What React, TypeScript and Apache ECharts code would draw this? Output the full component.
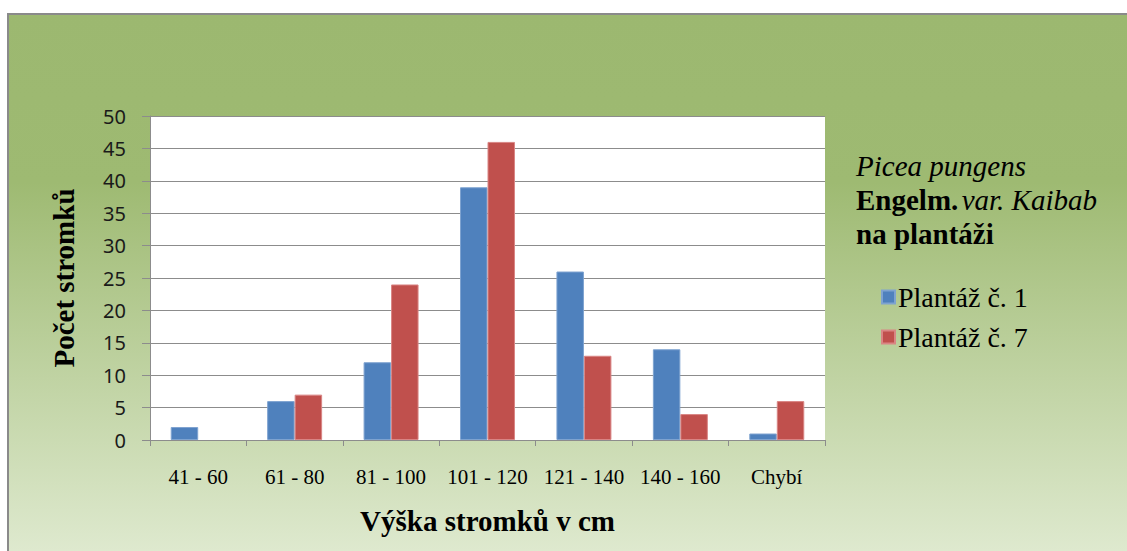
import React, { useEffect, useRef } from "react";
import * as echarts from "echarts";

const categories = ["41 - 60", "61 - 80", "81 - 100", "101 - 120", "121 - 140", "140 - 160", "Chybí"];
const plantaz1 = [2, 6, 12, 39, 26, 14, 1];
const plantaz7 = [0, 7, 24, 46, 13, 4, 6];
const seriesNames = ["Plantáž č. 1", "Plantáž č. 7"];
const yTicks = { min: 0, max: 50, interval: 5 };

const SERIF = '"Liberation Serif", "Times New Roman", serif';
const SANS = '"Noto Sans", "Open Sans", sans-serif';

// zero-height bars get no outline so they stay invisible
const toBarData = (values: number[]) =>
  values.map((v) => (v === 0 ? { value: v, itemStyle: { borderWidth: 0 } } : v));

export default function App() {
  const ref = useRef<HTMLDivElement>(null);

  useEffect(() => {
    document.body.style.margin = "0";
    const chart = echarts.init(ref.current!, null, { renderer: "svg" });
    chart.setOption({
      animation: false,
      graphic: [
        {
          type: "rect",
          z: -10,
          silent: true,
          shape: { x: 8, y: 14, width: 1140, height: 560 },
          style: {
            fill: new echarts.graphic.LinearGradient(0, 0, 0, 1, [
              { offset: 0, color: "#9cb870" },
              { offset: 0.3, color: "#9eba72" },
              { offset: 1, color: "#e2ecd4" },
            ]),
            stroke: "#8a8a8a",
            lineWidth: 2,
          },
        },
        {
          type: "rect",
          z: -5,
          silent: true,
          shape: { x: 150, y: 116, width: 675, height: 324 },
          style: { fill: "#ffffff" },
        },
        {
          type: "text",
          left: 856,
          top: 151,
          style: {
            text:
              "{i|Picea pungens}\n{b|Engelm.} {i|var. Kaibab}\n{b|na plantáži}",
            rich: {
              i: { fontFamily: SERIF, fontStyle: "italic", fontSize: 29, lineHeight: 34, fill: "#000" },
              b: { fontFamily: SERIF, fontWeight: "bold", fontSize: 29, lineHeight: 34, fill: "#000" },
            },
          },
        },
      ],
      legend: {
        orient: "vertical",
        left: 876,
        top: 278,
        itemWidth: 13,
        itemHeight: 13,
        itemGap: 12,
        icon: "rect",
        data: seriesNames,
        textStyle: { fontFamily: SERIF, fontSize: 28, color: "#000", padding: [0, 0, 0, -2] },
      },
      grid: { left: 150, top: 116, width: 675, height: 324, containLabel: false },
      xAxis: {
        type: "category",
        data: categories,
        name: "Výška stromků v cm",
        nameLocation: "middle",
        nameGap: 66,
        nameTextStyle: { fontFamily: SERIF, fontWeight: "bold", fontSize: 29, color: "#000" },
        axisLine: { lineStyle: { color: "#8c8c8c", width: 1 } },
        axisTick: { show: true, alignWithLabel: false, length: 6, lineStyle: { color: "#8c8c8c" } },
        axisLabel: { fontFamily: SERIF, fontSize: 21, color: "#000", margin: 26, interval: 0, hideOverlap: false },
      },
      yAxis: {
        type: "value",
        min: yTicks.min,
        max: yTicks.max,
        interval: yTicks.interval,
        name: "Počet stromků",
        nameLocation: "middle",
        nameGap: 72,
        nameTextStyle: { fontFamily: SERIF, fontWeight: "bold", fontSize: 29, color: "#000" },
        axisLine: { show: true, lineStyle: { color: "#8c8c8c", width: 1 } },
        axisTick: { show: true, length: 8, lineStyle: { color: "#8c8c8c" } },
        axisLabel: { fontFamily: SANS, fontSize: 20, color: "#1a1a1a", margin: 24 },
        splitLine: { lineStyle: { color: "#8c8c8c", width: 1 } },
      },
      series: [
        {
          name: seriesNames[0],
          type: "bar",
          data: toBarData(plantaz1),
          barGap: "0%",
          barCategoryGap: "43%",
          itemStyle: { color: "#4f81bd", borderColor: "#7ea3d0", borderWidth: 1 },
        },
        {
          name: seriesNames[1],
          type: "bar",
          data: toBarData(plantaz7),
          barGap: "0%",
          barCategoryGap: "43%",
          itemStyle: { color: "#c0504d", borderColor: "#d98584", borderWidth: 1 },
        },
      ],
    });
    return () => chart.dispose();
  }, []);

  return <div ref={ref} style={{ width: 1127, height: 551 }} />;
}
